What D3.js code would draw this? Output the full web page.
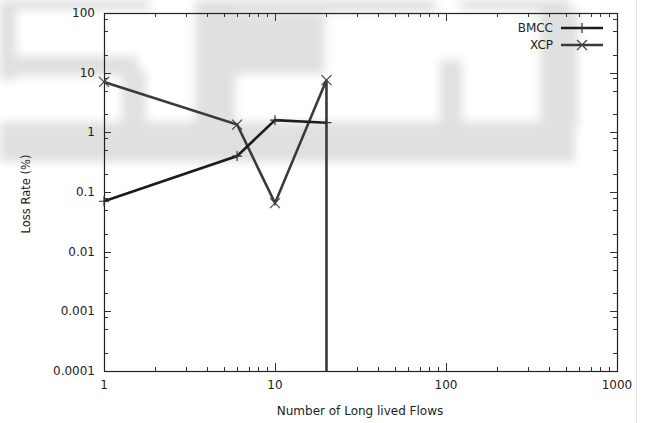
<!DOCTYPE html>
<html><head><meta charset="utf-8">
<script src="https://cdn.jsdelivr.net/npm/d3@7"></script>
<style>body{margin:0;background:#fff}svg{display:block}text{font-family:"DejaVu Sans",sans-serif;fill:#222}</style>
</head><body><svg id="c" width="649" height="423"></svg>
<script>
const flows = [1, 6, 10, 20];
const bmcc = [0.07, 0.4, 1.6, 1.45];
const xcpFlows = [1, 6, 10, 20, 20];
const xcp = [7, 1.35, 0.065, 7.5, 0];
const xTicks = [1, 10, 100, 1000];
const yTicks = [0.0001, 0.001, 0.01, 0.1, 1, 10, 100];
const yTickLabels = ["0.0001", "0.001", "0.01", "0.1", "1", "10", "100"];
const seriesNames = ["BMCC", "XCP"];

const svg = d3.select("#c");
const m = {l: 104, r: 617, t: 13, b: 371};
const x = d3.scaleLog().domain([1, 1000]).range([m.l, m.r]);
const y = d3.scaleLog().domain([0.0001, 100]).range([m.b, m.t]);
const yv = v => v > 0 ? y(v) : m.b;

// faint background watermark (blurred blocks)
const defs = svg.append("defs");
defs.append("filter").attr("id", "bl").append("feGaussianBlur").attr("stdDeviation", 5);
const wm = svg.append("g").attr("filter", "url(#bl)").attr("fill", "#e0e0e0");
[[0, 122, 575, 40], [0, 0, 16, 80], [16, 56, 122, 20], [122, 70, 24, 60], [0, 0, 150, 10],
 [195, 0, 40, 125], [235, 0, 200, 12], [235, 14, 90, 60], [440, 60, 22, 65], [460, 0, 110, 10], [540, 10, 38, 117]]
  .forEach(r => wm.append("rect").attr("x", r[0]).attr("y", r[1]).attr("width", r[2]).attr("height", r[3]));
svg.append("rect").attr("x", 636).attr("y", 0).attr("width", 1).attr("height", 423).attr("fill", "#e6e6e6");

const g = svg.append("g");
const xMinor = [];
for (let d = 1; d < 1000; d *= 10) for (let k = 2; k <= 9; k++) xMinor.push(d * k);
const yMinor = [];
for (let d = 0.0001; d < 99; d *= 10) for (const k of [2, 5, 8]) yMinor.push(d * k);

const tick = (x1, y1, x2, y2) => g.append("line").attr("x1", x1).attr("y1", y1).attr("x2", x2).attr("y2", y2)
  .attr("stroke", "#333").attr("stroke-width", 1);
xTicks.forEach(v => { const px = Math.round(x(v)) + 0.5; tick(px, m.b, px, m.b - 8); tick(px, m.t, px, m.t + 8); });
xMinor.forEach(v => { const px = Math.round(x(v)) + 0.5; tick(px, m.b, px, m.b - 4); tick(px, m.t, px, m.t + 4); });
yTicks.forEach(v => { const py = Math.round(y(v)) + 0.5; tick(m.l, py, m.l + 7, py); tick(m.r, py, m.r - 7, py); });
yMinor.forEach(v => { const py = Math.round(y(v)) + 0.5; tick(m.l, py, m.l + 4, py); tick(m.r, py, m.r - 4, py); });

g.append("rect").attr("x", m.l + 0.5).attr("y", m.t + 0.5).attr("width", m.r - m.l).attr("height", m.b - m.t)
  .attr("fill", "none").attr("stroke", "#222").attr("stroke-width", 1.2);

xTicks.forEach(v => g.append("text").attr("x", x(v)).attr("y", 389).attr("text-anchor", "middle").attr("font-size", 12).text(v));
yTicks.forEach((v, i) => g.append("text").attr("x", 95).attr("y", y(v) + 4).attr("text-anchor", "end").attr("font-size", 12).text(yTickLabels[i]));
g.append("text").attr("x", 360).attr("y", 415).attr("text-anchor", "middle").attr("font-size", 12).text("Number of Long lived Flows");
g.append("text").attr("transform", "translate(30,194) rotate(-90)").attr("text-anchor", "middle").attr("font-size", 11.5).text("Loss Rate (%)");

const line = d3.line().x(d => x(d[0])).y(d => yv(d[1]));
const bData = flows.map((f, i) => [f, bmcc[i]]);
const xData = xcpFlows.map((f, i) => [f, xcp[i]]);
svg.append("path").attr("d", line(xData)).attr("fill", "none").attr("stroke", "#3a3a3a").attr("stroke-width", 2.6);
svg.append("path").attr("d", line(bData)).attr("fill", "none").attr("stroke", "#1c1c1c").attr("stroke-width", 2.6);

const plus = (cx, cy) => { svg.append("path").attr("d", `M${cx-5},${cy}H${cx+5}M${cx},${cy-5}V${cy+5}`).attr("stroke", "#333").attr("stroke-width", 1.2); };
const cross = (cx, cy) => { svg.append("path").attr("d", `M${cx-5},${cy-5}L${cx+5},${cy+5}M${cx-5},${cy+5}L${cx+5},${cy-5}`).attr("stroke", "#444").attr("stroke-width", 1.2); };
bData.forEach(d => plus(x(d[0]), yv(d[1])));
xData.filter(d => d[1] > 0).forEach(d => cross(x(d[0]), yv(d[1])));

const legY = [28, 45];
seriesNames.forEach((n, i) => {
  svg.append("text").attr("x", 553).attr("y", legY[i] + 4).attr("text-anchor", "end").attr("font-size", 12).text(n);
  svg.append("line").attr("x1", 561).attr("x2", 603).attr("y1", legY[i]).attr("y2", legY[i])
    .attr("stroke", i === 0 ? "#1c1c1c" : "#3a3a3a").attr("stroke-width", 2.6);
  if (i === 0) plus(582, legY[i]); else cross(582, legY[i]);
});
</script></body></html>
